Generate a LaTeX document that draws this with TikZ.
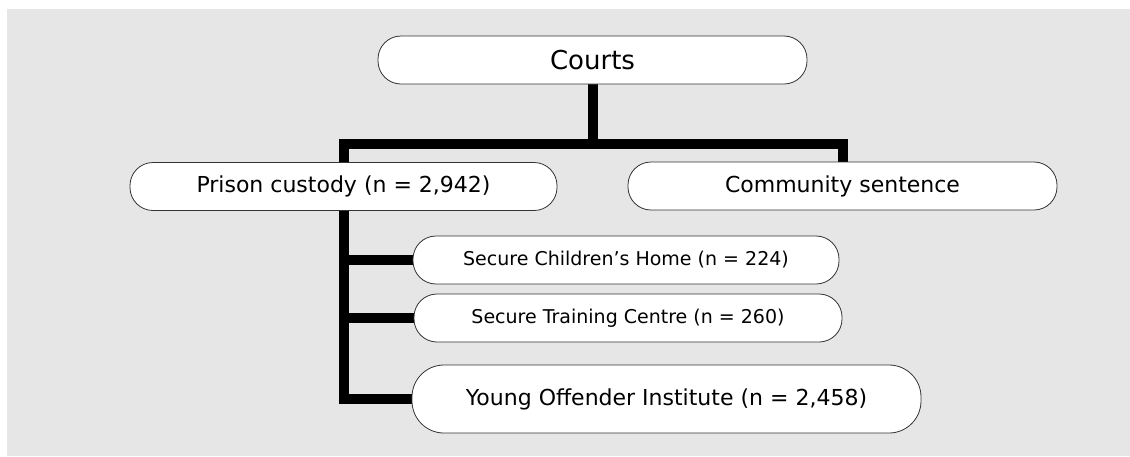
\documentclass[tikz,border=0pt]{standalone}
\usepackage{fontspec}
\setmainfont{DejaVu Sans}
\pgfdeclarelayer{bg}
\pgfdeclarelayer{lines}
\pgfsetlayers{bg,lines,main}
\tikzset{
  pill/.style={draw=black!80, line width=0.8pt, fill=white, rounded corners=23pt,
    minimum height=48pt, inner sep=0pt, anchor=center},
  conn/.style={line width=10pt, draw=black, line join=miter},
  bigtxt/.style={font=\fontsize{26}{30}\selectfont},
  midtxt/.style={font=\fontsize{22}{26}\selectfont},
  smalltxt/.style={font=\fontsize{19}{23}\selectfont},
}
\begin{document}
\begin{tikzpicture}[x=1pt,y=-1pt]
\useasboundingbox (0,0) rectangle (1130,456);
\begin{pgfonlayer}{bg}
  \fill[fill={rgb,255:red,230;green,230;blue,230}] (7,9) rectangle (1130,456);
\end{pgfonlayer}

\node[pill, bigtxt, minimum width=429pt] (courts) at (592.5,60) {Courts};
\node[pill, midtxt, minimum width=427pt] (prison) at (343.5,186.5) {Prison custody (n = 2,942)};
\node[pill, midtxt, minimum width=429pt] (comm) at (842.5,186) {Community sentence};
\node[pill, smalltxt, minimum width=426pt] (sch) at (626,260) {Secure Children’s Home (n = 224)};
\node[pill, smalltxt, minimum width=428pt] (stc) at (628,318) {Secure Training Centre (n = 260)};
\node[pill, midtxt, minimum width=509pt, minimum height=68pt, rounded corners=32pt] (yoi) at (666.5,399) {Young Offender Institute (n = 2,458)};

\coordinate (lt) at (343.5,144);

\begin{pgfonlayer}{lines}
  \draw[conn] (yoi.west) -| (lt) -| (comm.north);
  \draw[conn] (courts.south) -- (courts.south |- lt);
  \draw[conn] (sch.west) -- (sch.west -| lt);
  \draw[conn] (stc.west) -- (stc.west -| lt);
\end{pgfonlayer}
\end{tikzpicture}
\end{document}
